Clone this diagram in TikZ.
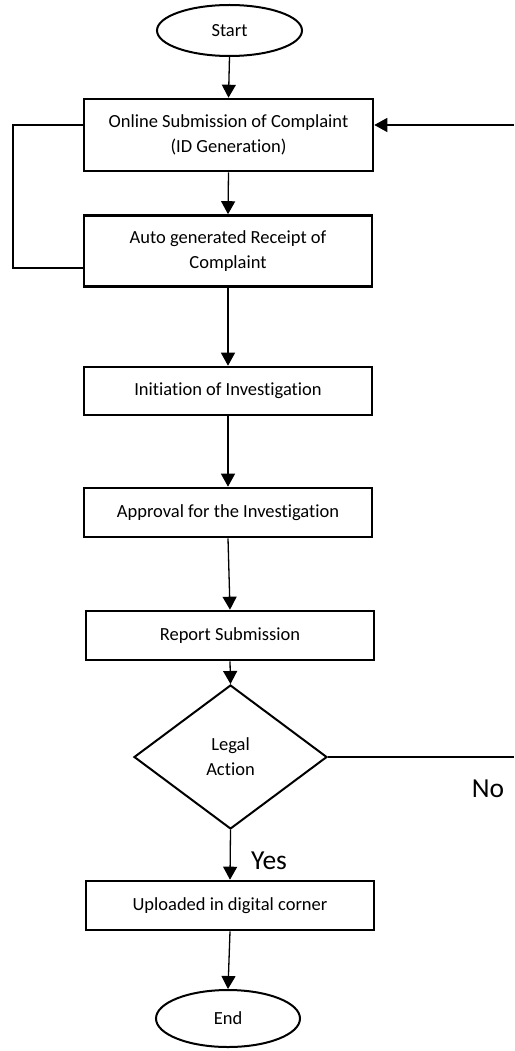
\documentclass[tikz,border=0pt]{standalone}
\usepackage{fontspec}
\setmainfont{Carlito}[Ligatures=NoCommon]
\usetikzlibrary{shapes.geometric,arrows.meta,calc}
\begin{document}
\begin{tikzpicture}[x=1pt,y=-1pt,
  every node/.style={font=\fontsize{18.5}{25}\selectfont, inner sep=0pt},
  procbox/.style={draw, line width=2.6pt, align=center, anchor=center},
  term/.style={draw, ellipse, line width=2pt},
  decide/.style={draw, diamond, line width=2pt, align=center},
  conn/.style={line width=1.3pt},
  arrow/.style={conn, -{Triangle[length=13pt,width=14pt]}},
  lbl/.style={font=\fontsize{27.5}{30}\selectfont}
]
\useasboundingbox (0,0) rectangle (514,1051);
\node[term, minimum width=145pt, minimum height=51pt] (start) at (229.5,30.5) {Start};
\node[procbox, minimum width=289pt, minimum height=72pt] (b1) at (228.5,135) {Online Submission of Complaint\\(ID Generation)};
\node[procbox, minimum width=288pt, minimum height=71pt] (b2) at (228,251) {Auto generated Receipt of\\Complaint};
\node[procbox, minimum width=288pt, minimum height=48pt] (b3) at (228,391) {Initiation of Investigation};
\node[procbox, minimum width=288pt, minimum height=49pt] (b4) at (228,512.5) {Approval for the Investigation};
\node[procbox, minimum width=288pt, minimum height=49pt] (b5) at (230,635.5) {Report Submission};
\node[decide, minimum width=193pt, minimum height=144pt] (dia) at (230.5,757) {Legal\\Action};
\node[procbox, minimum width=288pt, minimum height=49pt] (b6) at (230,905.5) {Uploaded in digital corner};
\node[term, minimum width=144pt, minimum height=57pt] (end) at (228,1018.5) {End};
\node[lbl] (yes) at (269,861) {Yes};
\node[lbl] (no) at (488,789) {No};

\coordinate (r1) at (514,125);
\coordinate (r2) at (514,757);
\coordinate (l1) at (13,125);
\coordinate (l2) at (13,268);

\draw[arrow] (start.south) -- (b1.north);
\draw[arrow] (b1.south) -- (b2.north);
\draw[arrow] (b2.south) -- (b3.north);
\draw[arrow] (b3.south) -- (b4.north);
\draw[arrow] (b4.south) -- (b5.north);
\draw[arrow] (b5.south) -- (dia.north);
\draw[arrow] (dia.south) -- (b6.north);
\draw[arrow] (b6.south) -- (end.north);
\draw[arrow] (r1) -- (r1 -| b1.east);
\draw[conn] (dia.east) -- (r2);
\draw[conn] (l1 -| b1.west) -- (l1) -- (l2) -- (l2 -| b2.west);
\end{tikzpicture}
\end{document}
